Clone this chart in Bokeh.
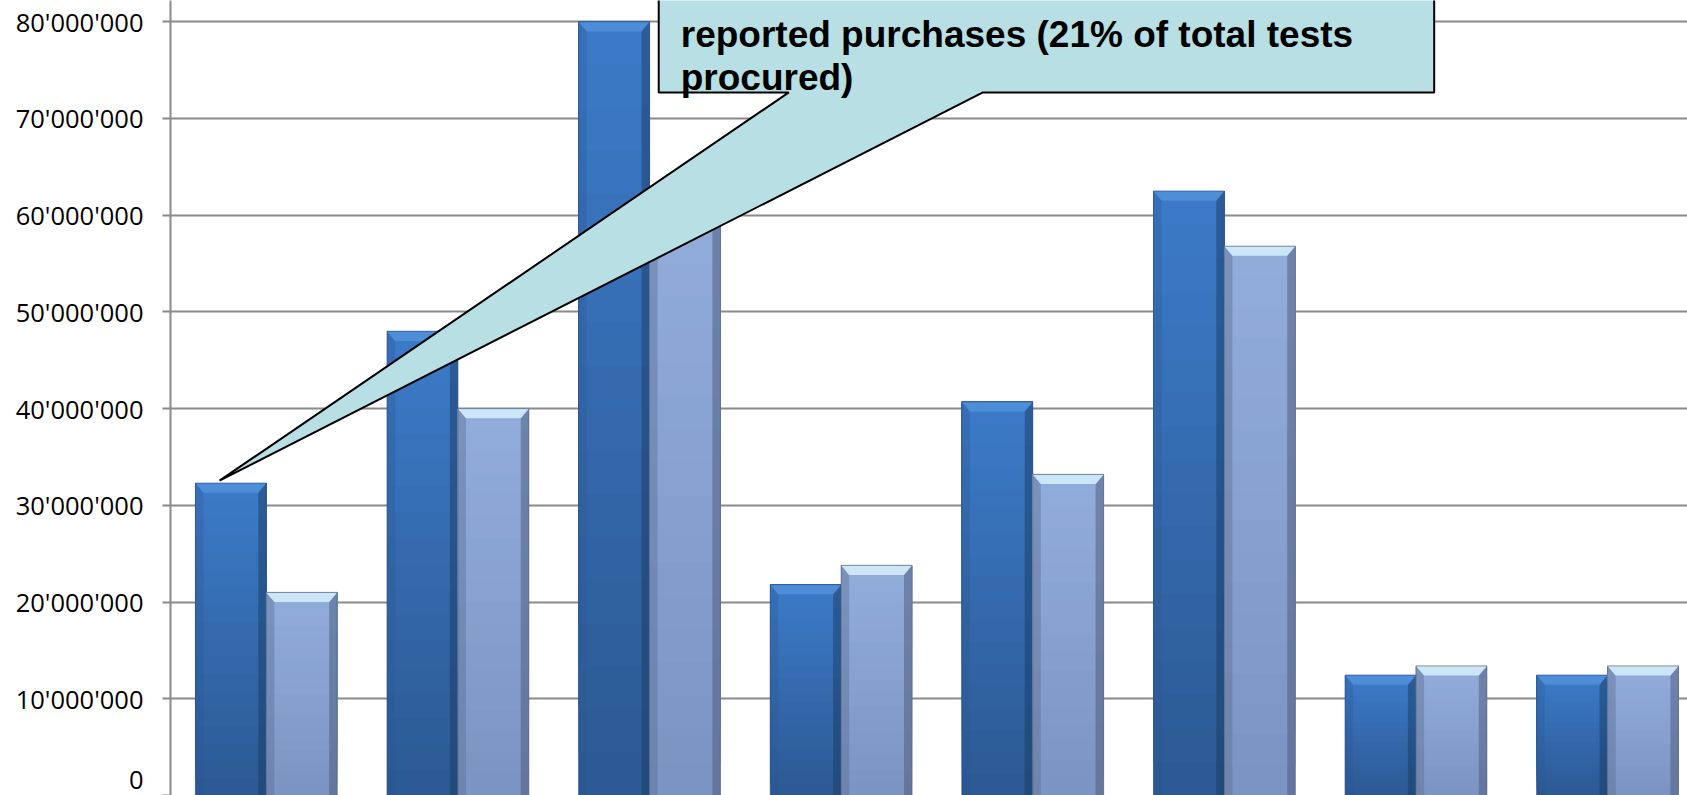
import numpy as np
from bokeh.plotting import figure
from bokeh.models import Range1d, FixedTicker, CustomJSTickFormatter, ColumnDataSource
from bokeh.core.properties import value
from bokeh.embed import file_html
from bokeh.resources import INLINE

# ---------------- data ----------------
group_index = [0, 1, 2, 3, 4, 5, 6, 7]
series_dark = [32.3e6, 48.0e6, 80.0e6, 21.8e6, 40.7e6, 62.5e6, 12.45e6, 12.45e6]
series_light = [21.0e6, 40.0e6, 62.0e6, 23.8e6, 33.2e6, 56.8e6, 13.4e6, 13.4e6]
y_ticks = [0, 10e6, 20e6, 30e6, 40e6, 50e6, 60e6, 70e6, 80e6]
callout_lines = ["reported purchases (21% of total tests", "procured)"]

# ---------------- figure ----------------
p = figure(width=1687, height=795,
           x_range=Range1d(0, 7.917), y_range=Range1d(0, 82.2e6),
           output_backend="svg", toolbar_location=None,
           min_border_left=170, min_border_right=0,
           min_border_top=0, min_border_bottom=0)
p.outline_line_color = None
p.background_fill_color = "white"
p.border_fill_color = "white"
p.xaxis.visible = False
p.xgrid.visible = False
p.ygrid.grid_line_color = "#8a8a8a"
p.ygrid.grid_line_width = 1.8
p.ygrid.ticker = FixedTicker(ticks=y_ticks)

ax = p.yaxis[0]
ax.ticker = FixedTicker(ticks=y_ticks)
ax.formatter = CustomJSTickFormatter(code=r"""
return Math.round(tick).toString().replace(/\B(?=(\d{3})+(?!\d))/g, "'");
""")
ax.axis_line_color = "#8a8a8a"
ax.axis_line_width = 2
ax.major_tick_line_color = "#8a8a8a"
ax.major_tick_line_width = 1.8
ax.major_tick_out = 8
ax.major_tick_in = 0
ax.minor_tick_line_color = None
ax.major_label_standoff = 19
ax.major_label_text_font = "Open Sans"
ax.major_label_text_font_size = "25.5px"
ax.major_label_text_color = "black"


def hex2rgb(h):
    h = h.lstrip("#")
    return [int(h[i:i + 2], 16) for i in (0, 2, 4)]


def mix(c1, c2, t):
    a, b = hex2rgb(c1), hex2rgb(c2)
    return "#%02x%02x%02x" % tuple(int(round(a[i] + (b[i] - a[i]) * t)) for i in range(3))


N = 18
D = 0.042      # bevel inset (x units)
H = 1.0e6      # bevel height (y units)


def draw_bars(vals, l_off, r_off, bot_col, top_col, cap_col, cap_alpha,
              left_col, left_alpha, right_col, right_alpha, edge_col):
    L, R, B, T, C = [], [], [], [], []
    for g, v in zip(group_index, vals):
        for k in range(N):
            L.append(g + l_off)
            R.append(g + r_off)
            B.append(v * k / N)
            T.append(v)
            C.append(mix(bot_col, top_col, (k + 0.5) / N))
    p.quad(left="left", right="right", bottom="bottom", top="top", fill_color="color",
           line_color=None,
           source=ColumnDataSource(dict(left=L, right=R, bottom=B, top=T, color=C)))
    lx, ly, rx, ry, cx, cy = [], [], [], [], [], []
    for g, v in zip(group_index, vals):
        l, r = g + l_off, g + r_off
        lx.append([l, l + D, l + D, l]); ly.append([v, v - H, 0, 0])
        rx.append([r, r - D, r - D, r]); ry.append([v, v - H, 0, 0])
        cx.append([l, r, r - D, l + D]); cy.append([v, v, v - H, v - H])
    p.patches(lx, ly, fill_color=left_col, fill_alpha=left_alpha, line_color=None)
    p.patches(rx, ry, fill_color=right_col, fill_alpha=right_alpha, line_color=None)
    p.patches(cx, cy, fill_color=cap_col, fill_alpha=cap_alpha, line_color=None)
    p.quad(left=[g + l_off for g in group_index], right=[g + r_off for g in group_index],
           bottom=0, top=vals, fill_color=None, line_color=edge_col, line_alpha=0.7,
           line_width=1)


# dark series
draw_bars(series_dark, 0.13, 0.5, "#2c5993", "#3c7bc8",
          "#5a9be4", 0.6, "#2a5692", 0.3, "#173760", 0.45, "#2d5084")
# light series
draw_bars(series_light, 0.5, 0.87, "#7b93c0", "#93addb",
          "#d4ecfa", 0.9, "#5d7097", 0.45, "#4a5a7c", 0.5, "#56667f")

# ---------------- callout ----------------
tip_x = group_index[0] + 0.256
tip_y = series_dark[0] + 0.25e6
bx0, bx1 = 2.548, 6.595
by0, by1 = 72.7e6, 86e6
px0, px1 = 3.227, 4.240
p.patch([bx0, bx0, bx1, bx1, px1, tip_x, px0, bx0],
        [by1, by1, by1, by0, by0, tip_y, by0, by0],
        fill_color="#b8dfe3", line_color="black", line_width=2)
p.text(x=[2.663, 2.663], y=[78.7e6, 74.25e6], text=callout_lines,
       text_font=value("Liberation Sans"), text_font_style="bold",
       text_font_size="37px", text_color="black",
       text_align="left", text_baseline="alphabetic")

open("out.html", "w").write(file_html(p, INLINE))
